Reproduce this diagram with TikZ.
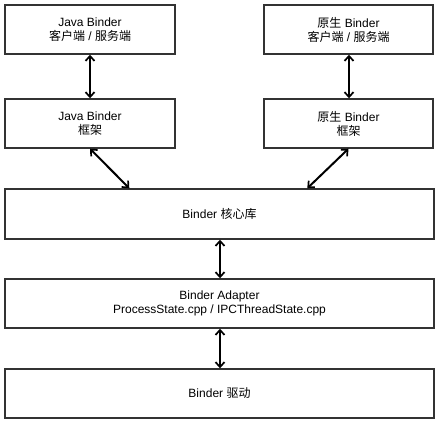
\documentclass[tikz,border=0pt]{standalone}
\usepackage{fontspec}
\setmainfont{Liberation Sans}
\newfontfamily\cjk{Noto Sans CJK SC}
\usetikzlibrary{arrows.meta}
\begin{document}
\begin{tikzpicture}[x=1pt,y=-1pt,
  box/.style={draw=black!80,line width=1.4pt,align=center,inner sep=0pt,
    font=\fontsize{12pt}{14pt}\selectfont},
  arr/.style={line width=2pt,{Straight Barb[length=5pt,width=9pt,line width=1.7pt]}-{Straight Barb[length=5pt,width=9pt,line width=1.7pt]}}]
\useasboundingbox (0,0) rectangle (439,424);
\node[box,minimum width=170pt,minimum height=49pt] (jc) at (90,29.5) {Java Binder\\{\cjk 客户端} / {\cjk 服务端}};
\node[box,minimum width=170pt,minimum height=49pt] (jf) at (90,123.5) {Java Binder\\{\cjk 框架}};
\node[box,minimum width=169pt,minimum height=49pt] (nc) at (348.5,29.5) {{\cjk 原生} Binder\\{\cjk 客户端} / {\cjk 服务端}};
\node[box,minimum width=169pt,minimum height=49pt] (nf) at (348.5,123.5) {{\cjk 原生} Binder\\{\cjk 框架}};
\node[box,minimum width=429pt,minimum height=50pt] (core) at (219.5,214) {Binder {\cjk 核心库}};
\node[box,minimum width=429pt,minimum height=49pt] (ad) at (219.5,303.5) {Binder Adapter\\ProcessState.cpp / IPCThreadState.cpp};
\node[box,minimum width=429pt,minimum height=49pt] (dr) at (219.5,393.5) {Binder {\cjk 驱动}};
\draw[arr] (jc.south) -- (jf.north);
\draw[arr] ([xshift=0.5pt]nc.south) -- ([xshift=0.5pt]nf.north);
\draw[arr] (jf.south) -- ([xshift=125pt]core.north west);
\draw[arr] (nf.south) -- ([xshift=303pt]core.north west);
\draw[arr] ([xshift=0.5pt]core.south) -- ([xshift=0.5pt]ad.north);
\draw[arr] ([xshift=0.5pt]ad.south) -- ([xshift=0.5pt]dr.north);
\end{tikzpicture}
\end{document}
